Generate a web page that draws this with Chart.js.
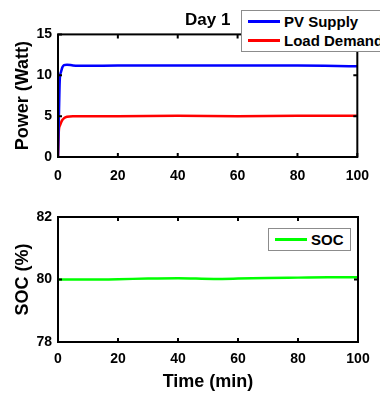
<!DOCTYPE html>
<html>
<head>
<meta charset="utf-8">
<script src="https://cdn.jsdelivr.net/npm/chart.js@4"></script>
<style>
  body { margin: 0; width: 380px; height: 393px; overflow: hidden; background: #fff; position: relative;
         font-family: "Liberation Sans", Arial, sans-serif; }
  canvas { position: absolute; left: 0; }
  #top { top: 0; }
  #bottom { top: 190px; }
  .legend { position: absolute; background: #fff; border: 1px solid #8c8c8c; font-weight: bold; font-size: 15px;
            white-space: nowrap; padding: 1px 6px 1px 6px; }
  .legend div { display: flex; align-items: center; height: 19px; }
  .legend span.ln { display: inline-block; width: 32px; height: 3px; margin-right: 4px; }
</style>
</head>
<body>
<canvas id="top" width="380" height="190"></canvas>
<canvas id="bottom" width="380" height="203"></canvas>
<div class="legend" id="legendTop" style="left:241px; top:10px;"></div>
<div class="legend" id="legendBottom" style="left:268px; top:228px;"></div>
<script>
// Day 1 data
const timePower = [0, 0.3, 0.6, 1, 1.5, 2, 3, 5, 10, 20, 40, 60, 80, 100];
const pvSupply = [0, 5, 9.5, 10.4, 11.0, 11.25, 11.3, 11.2, 11.15, 11.2, 11.2, 11.2, 11.2, 11.1];
const loadDemand = [0, 3.3, 3.8, 4.2, 4.55, 4.75, 4.92, 5.0, 5.0, 5.0, 5.05, 5.0, 5.05, 5.05];

const timeSoc = [0, 10, 20, 30, 40, 52, 60, 70, 80, 90, 100];
const soc = [80.0, 80.0, 80.01, 80.03, 80.04, 80.02, 80.03, 80.05, 80.06, 80.07, 80.07];

const xTicks = [0, 20, 40, 60, 80, 100];
const powerTicks = [0, 5, 10, 15];
const socTicks = [78, 80, 82];

const FONT = "'Liberation Sans', Arial, sans-serif";

function pts(xs, ys) {
  return xs.map((x, i) => ({ x: x, y: ys[i] }));
}

// matlab style box with inward ticks
const boxPlugin = {
  id: "box",
  afterDraw(chart) {
    const { ctx, chartArea: a, scales: { x, y } } = chart;
    ctx.save();
    ctx.strokeStyle = "#000";
    ctx.lineWidth = 2;
    ctx.strokeRect(a.left, a.top, a.right - a.left, a.bottom - a.top);
    ctx.beginPath();
    x.ticks.forEach(t => {
      const px = x.getPixelForValue(t.value);
      ctx.moveTo(px, a.bottom); ctx.lineTo(px, a.bottom - 4);
      ctx.moveTo(px, a.top); ctx.lineTo(px, a.top + 4);
    });
    y.ticks.forEach(t => {
      const py = y.getPixelForValue(t.value);
      ctx.moveTo(a.left, py); ctx.lineTo(a.left + 4, py);
      ctx.moveTo(a.right, py); ctx.lineTo(a.right - 4, py);
    });
    ctx.stroke();
    ctx.restore();
  }
};

function makeOptions(opts) {
  return {
    responsive: false,
    animation: false,
    layout: { padding: { left: 0, right: 22, top: opts.top, bottom: 0 } },
    plugins: {
      legend: { display: false },
      tooltip: { enabled: false },
      title: opts.title
        ? { display: true, text: opts.title, fullSize: false, color: "#000",
            font: { family: FONT, size: 17, weight: "bold" }, padding: { top: 10, bottom: 4 } }
        : { display: false }
    },
    elements: { point: { radius: 0 }, line: { borderWidth: 2.5, cubicInterpolationMode: "monotone" } },
    scales: {
      x: {
        type: "linear", min: 0, max: 100,
        afterBuildTicks: s => { s.ticks = xTicks.map(v => ({ value: v })); },
        afterFit: s => { s.height = opts.xHeight; },
        grid: { display: false, drawTicks: false, tickLength: 0 },
        border: { display: false },
        ticks: { color: "#000", padding: opts.xPad, maxRotation: 0, font: { family: FONT, size: 14, weight: "bold" } },
        title: opts.xTitle
          ? { display: true, text: opts.xTitle, color: "#000", padding: { top: 0, bottom: 0 },
              font: { family: FONT, size: 18, weight: "bold" } }
          : { display: false }
      },
      y: {
        min: opts.yTicks[0], max: opts.yTicks[opts.yTicks.length - 1],
        afterBuildTicks: s => { s.ticks = opts.yTicks.map(v => ({ value: v })); },
        afterFit: s => { s.width = 58; },
        grid: { display: false, drawTicks: false, tickLength: 0 },
        border: { display: false },
        ticks: { color: "#000", padding: 6, font: { family: FONT, size: 14, weight: "bold" } },
        title: { display: true, text: opts.yTitle, color: "#000", padding: { top: 12, bottom: 0 },
                 font: { family: FONT, size: 18, weight: "bold" } }
      }
    }
  };
}

const topChart = new Chart(document.getElementById("top").getContext("2d"), {
  type: "line",
  data: {
    datasets: [
      { label: "PV Supply", data: pts(timePower, pvSupply), borderColor: "#0000ff" },
      { label: "Load Demand", data: pts(timePower, loadDemand), borderColor: "#ff0000" }
    ]
  },
  options: makeOptions({ top: 0, title: "Day 1", xHeight: 33, xPad: 11, yTicks: powerTicks, yTitle: "Power (Watt)" }),
  plugins: [boxPlugin]
});

const bottomChart = new Chart(document.getElementById("bottom").getContext("2d"), {
  type: "line",
  data: {
    datasets: [
      { label: "SOC", data: pts(timeSoc, soc), borderColor: "#00ff00" }
    ]
  },
  options: makeOptions({ top: 27, xHeight: 51, xPad: 9, yTicks: socTicks, yTitle: "SOC (%)", xTitle: "Time (min)" }),
  plugins: [boxPlugin]
});

function buildLegend(chart, id) {
  const el = document.getElementById(id);
  chart.data.datasets.forEach(ds => {
    const row = document.createElement("div");
    const ln = document.createElement("span");
    ln.className = "ln";
    ln.style.background = ds.borderColor;
    row.appendChild(ln);
    row.appendChild(document.createTextNode(ds.label));
    el.appendChild(row);
  });
}
buildLegend(topChart, "legendTop");
buildLegend(bottomChart, "legendBottom");
</script>
</body>
</html>
